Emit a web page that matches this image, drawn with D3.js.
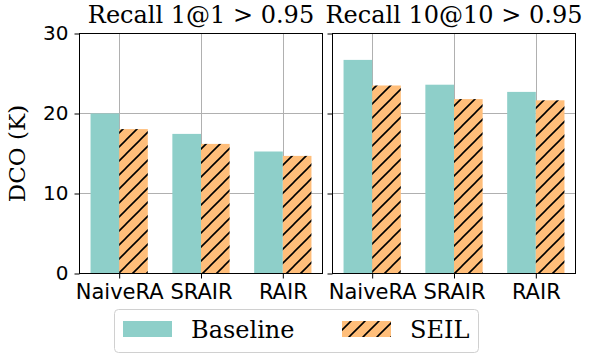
<!DOCTYPE html>
<html>
<head>
<meta charset="utf-8">
<script src="https://cdn.jsdelivr.net/npm/d3@7"></script>
<style>
  body { margin: 0; background: #fff; }
  svg { display: block; }
</style>
</head>
<body>
<div id="chart"></div>
<script>
// data
var categories = ["NaiveRA", "SRAIR", "RAIR"];
var baseline1 = [20.0, 17.45, 15.25];
var seil1 = [18.05, 16.2, 14.7];
var baseline10 = [26.7, 23.6, 22.7];
var seil10 = [23.5, 21.8, 21.65];
var yTicks = [0, 10, 20, 30];
var titles = ["Recall 1@1 > 0.95", "Recall 10@10 > 0.95"];
var seriesNames = ["Baseline", "SEIL"];

var panels = [
  {title: titles[0], base: baseline1, seil: seil1, left: 79.5, labels: true},
  {title: titles[1], base: baseline10, seil: seil10, left: 332.5, labels: false}
];

var W = 598, H = 359;
var panelW = 243, topY = 33.5, botY = 273.5;
var barW = 0.35;
var teal = "#8ecfc9", orange = "#ffbe7a", gridC = "#b0b0b0";

var svg = d3.select("#chart").append("svg")
  .attr("width", W).attr("height", H);

var defs = svg.append("defs");
var pat = defs.append("pattern")
  .attr("id", "hatch")
  .attr("patternUnits", "userSpaceOnUse")
  .attr("width", 14).attr("height", 14);
pat.append("rect").attr("width", 14).attr("height", 14).attr("fill", orange);
pat.append("path")
  .attr("d", "M0,14 L14,0 M-2,2 L2,-2 M12,16 L16,12")
  .attr("stroke", "#000").attr("stroke-width", 1.6);

var y = d3.scaleLinear().domain([0, 30]).range([botY, topY]);

panels.forEach(function(p) {
  var x = d3.scaleLinear()
    .domain([-0.485, 2.485])
    .range([p.left, p.left + panelW]);
  var g = svg.append("g");

  // grid
  g.selectAll(".hg").data(yTicks).enter().append("line")
    .attr("x1", p.left).attr("x2", p.left + panelW)
    .attr("y1", function(d) { return Math.floor(y(d)) + 0.5; })
    .attr("y2", function(d) { return Math.floor(y(d)) + 0.5; })
    .attr("stroke", gridC).attr("stroke-width", 1);
  g.selectAll(".vg").data(categories).enter().append("line")
    .attr("x1", function(d, i) { return Math.round(x(i)) + 0.5; })
    .attr("x2", function(d, i) { return Math.round(x(i)) + 0.5; })
    .attr("y1", topY).attr("y2", botY)
    .attr("stroke", gridC).attr("stroke-width", 1);

  // bars
  g.selectAll(".b").data(p.base).enter().append("rect")
    .attr("x", function(d, i) { return x(i - barW); })
    .attr("width", function(d, i) { return x(i) - x(i - barW); })
    .attr("y", function(d) { return y(d); })
    .attr("height", function(d) { return y(0) - y(d); })
    .attr("fill", teal);
  g.selectAll(".s").data(p.seil).enter().append("rect")
    .attr("x", function(d, i) { return x(i); })
    .attr("width", function(d, i) { return x(i + barW) - x(i); })
    .attr("y", function(d) { return y(d); })
    .attr("height", function(d) { return y(0) - y(d); })
    .attr("fill", "url(#hatch)");

  // frame
  g.append("rect")
    .attr("x", p.left).attr("y", topY)
    .attr("width", panelW).attr("height", botY - topY)
    .attr("fill", "none").attr("stroke", "#000").attr("stroke-width", 1);

  // y axis
  var ya = d3.axisLeft(y).tickValues(yTicks).tickSize(5).tickPadding(6)
    .tickFormat(p.labels ? d3.format("d") : "");
  var yg = g.append("g").attr("transform", "translate(" + p.left + ",0)").call(ya);
  yg.select(".domain").remove();
  yg.selectAll("text").style("font-family", "DejaVu Sans").style("font-size", "20px").attr("fill", "#000");

  // x axis
  var xa = d3.axisBottom(x).tickValues([0, 1, 2]).tickSize(5).tickPadding(6)
    .tickFormat(function(d) { return categories[d]; });
  var xg = g.append("g").attr("transform", "translate(0," + botY + ")").call(xa);
  xg.select(".domain").remove();
  xg.selectAll("text").style("font-family", "DejaVu Sans").style("font-size", "21px").attr("fill", "#000");

  // title
  svg.append("text")
    .attr("x", p.left + panelW / 2).attr("y", 23)
    .attr("text-anchor", "middle")
    .style("font-family", "DejaVu Serif").style("font-size", "24px")
    .text(p.title);
});

// y label
svg.append("text")
  .attr("transform", "translate(25," + ((topY + botY) / 2) + ") rotate(-90)")
  .attr("text-anchor", "middle")
  .style("font-family", "DejaVu Serif").style("font-size", "23px")
  .text("DCO (K)");

// legend
var lg = svg.append("g");
lg.append("rect")
  .attr("x", 114.5).attr("y", 309.5).attr("width", 364).attr("height", 43)
  .attr("rx", 4).attr("fill", "#fff").attr("stroke", "#d0d0d0").attr("stroke-width", 1);
var legItems = [
  {name: seriesNames[0], fill: teal, x: 123},
  {name: seriesNames[1], fill: "url(#hatch)", x: 342}
];
legItems.forEach(function(d) {
  lg.append("rect").attr("x", d.x).attr("y", 321).attr("width", 49).attr("height", 16)
    .attr("fill", d.fill);
  lg.append("text").attr("x", d.x + 68).attr("y", 337.5)
    .style("font-family", "DejaVu Serif").style("font-size", "24px")
    .text(d.name);
});
</script>
</body>
</html>
